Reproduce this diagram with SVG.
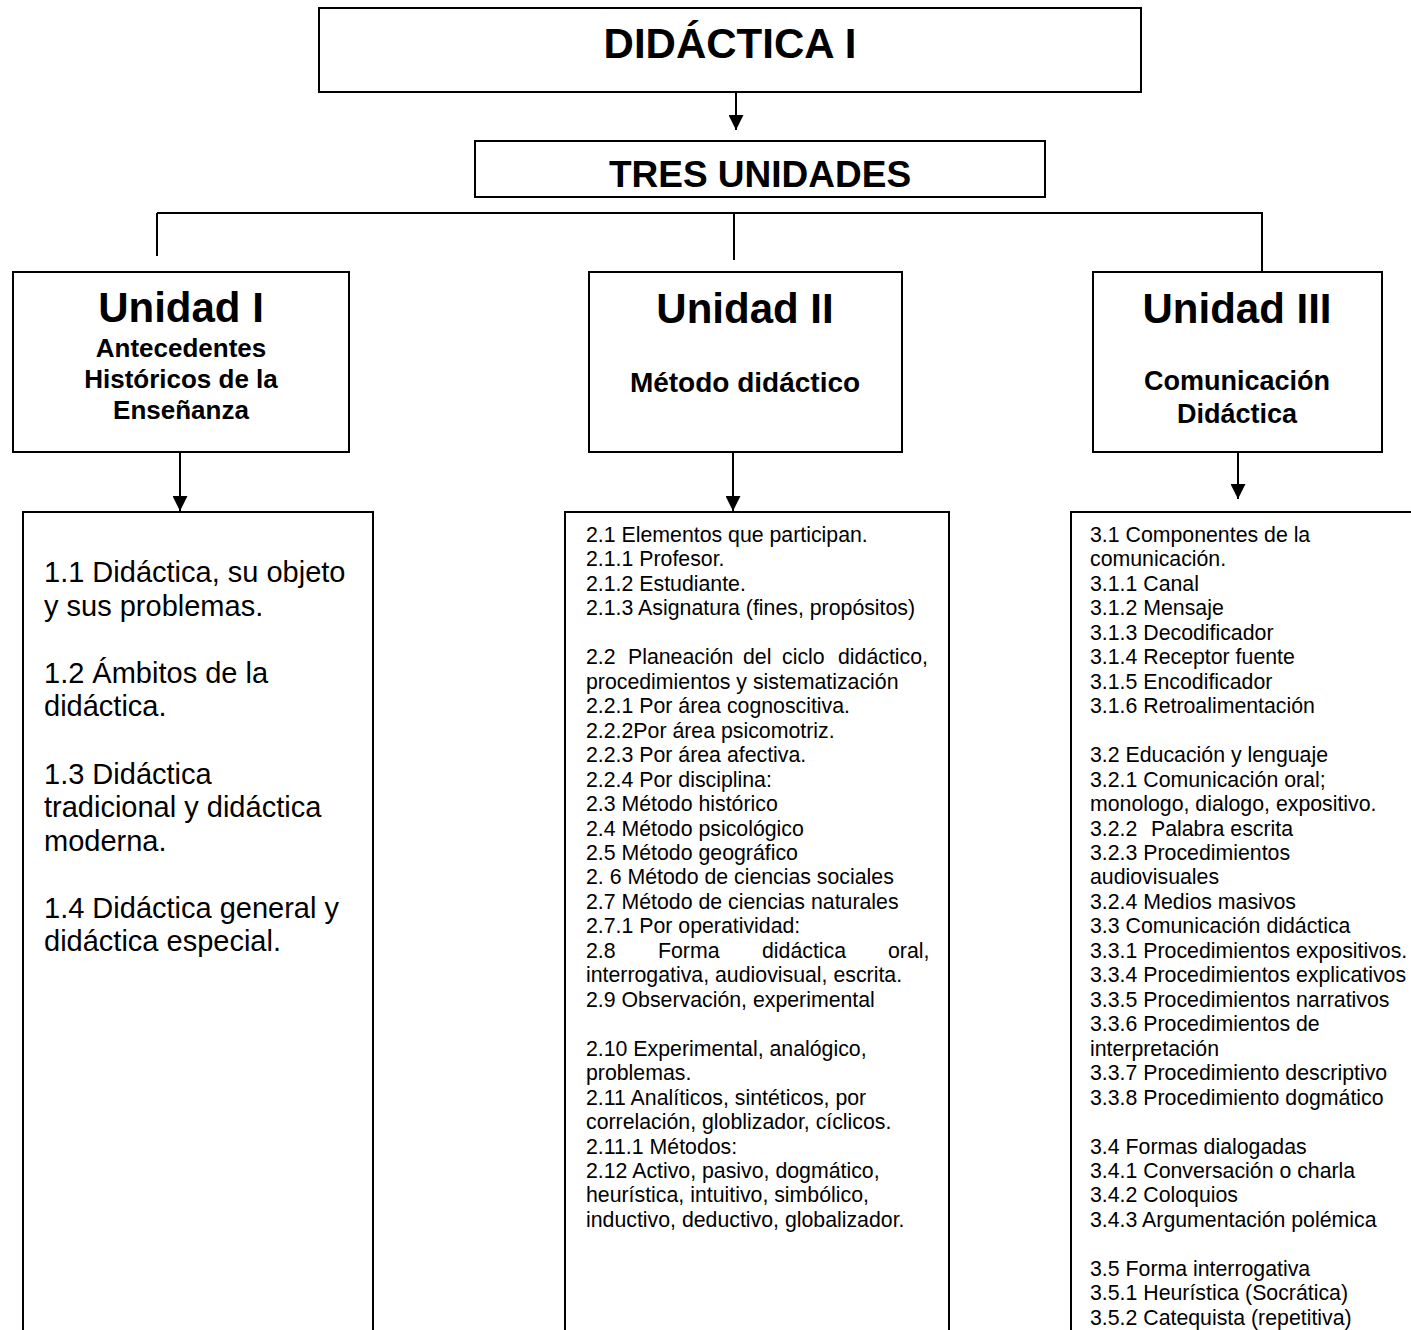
<svg xmlns="http://www.w3.org/2000/svg" width="1411" height="1330" viewBox="0 0 1411 1330">
<defs>
<style>
.box{fill:#fff;stroke:#000;stroke-width:2}
.ln{fill:none;stroke:#000;stroke-width:2}
text{font-family:"Liberation Sans",Arial,sans-serif;fill:#000}
.h1{font-size:42px;font-weight:bold;text-anchor:middle}
.h2{font-size:37px;font-weight:bold;text-anchor:middle}
.ut{font-size:42px;font-weight:bold;text-anchor:middle}
.s1{font-size:26px;font-weight:bold;text-anchor:middle}
.s2{font-size:28px;font-weight:bold;text-anchor:middle}
.s3{font-size:27px;font-weight:bold;text-anchor:middle}
.big{font-size:29px}
.sm{font-size:21.3px}
</style>
<marker id="ah" viewBox="0 0 10 10" refX="10" refY="5" markerWidth="7.5" markerHeight="7.5" markerUnits="strokeWidth" orient="auto">
<path d="M0,0 L10,5 L0,10 z" fill="#000"/>
</marker>
</defs>
<rect width="1411" height="1330" fill="#fff"/>

<g id="connectors">
<line class="ln" x1="736" y1="92" x2="736" y2="130" marker-end="url(#ah)"/>
<line class="ln" x1="157" y1="213" x2="1263" y2="213"/>
<line class="ln" x1="157" y1="213" x2="157" y2="256"/>
<line class="ln" x1="734" y1="213" x2="734" y2="260"/>
<line class="ln" x1="1262" y1="213" x2="1262" y2="272"/>
<line class="ln" x1="180" y1="452" x2="180" y2="511" marker-end="url(#ah)"/>
<line class="ln" x1="733" y1="452" x2="733" y2="511" marker-end="url(#ah)"/>
<line class="ln" x1="1238" y1="452" x2="1238" y2="499" marker-end="url(#ah)"/>
</g>

<g id="didactica">
<rect class="box" x="319" y="8" width="822" height="84"/>
<text class="h1" x="730" y="58">DIDÁCTICA I</text>
</g>

<g id="tres-unidades">
<rect class="box" x="475" y="141" width="570" height="56"/>
<text class="h2" x="760" y="187">TRES UNIDADES</text>
</g>

<g id="unidad1">
<rect class="box" x="13" y="272" width="336" height="180"/>
<text class="ut" x="181" y="322">Unidad I</text>
<text class="s1" x="181" y="357">Antecedentes</text>
<text class="s1" x="181" y="388">Históricos de la</text>
<text class="s1" x="181" y="419">Enseñanza</text>
</g>

<g id="unidad2">
<rect class="box" x="589" y="272" width="313" height="180"/>
<text class="ut" x="745" y="323">Unidad II</text>
<text class="s2" x="745" y="392">Método didáctico</text>
</g>

<g id="unidad3">
<rect class="box" x="1093" y="272" width="289" height="180"/>
<text class="ut" x="1237" y="323">Unidad III</text>
<text class="s3" x="1237" y="390">Comunicación</text>
<text class="s3" x="1237" y="423">Didáctica</text>
</g>

<g id="contenido1">
<rect class="box" x="23" y="512" width="350" height="840"/>
<text class="big">
<tspan x="44" y="582">1.1 Didáctica, su objeto</tspan>
<tspan x="44" y="615.5">y sus problemas.</tspan>
<tspan x="44" y="682.5">1.2 Ámbitos de la</tspan>
<tspan x="44" y="716">didáctica.</tspan>
<tspan x="44" y="783.5">1.3 Didáctica</tspan>
<tspan x="44" y="817">tradicional y didáctica</tspan>
<tspan x="44" y="850.5">moderna.</tspan>
<tspan x="44" y="917.5">1.4 Didáctica general y</tspan>
<tspan x="44" y="951">didáctica especial.</tspan>
</text>
</g>

<g id="contenido2">
<rect class="box" x="565" y="512" width="384" height="840"/>
<text class="sm">
<tspan x="586" y="542">2.1 Elementos que participan.</tspan>
<tspan x="586" y="566.46">2.1.1 Profesor.</tspan>
<tspan x="586" y="590.92">2.1.2 Estudiante.</tspan>
<tspan x="586" y="615.38">2.1.3 Asignatura (fines, propósitos)</tspan>
<tspan x="586" y="664.3">2.2</tspan><tspan x="628" y="664.3">Planeación</tspan><tspan x="743" y="664.3">del</tspan><tspan x="782" y="664.3">ciclo</tspan><tspan x="838" y="664.3">didáctico,</tspan>
<tspan x="586" y="688.76">procedimientos y sistematización</tspan>
<tspan x="586" y="713.22">2.2.1 Por área cognoscitiva.</tspan>
<tspan x="586" y="737.68">2.2.2Por área psicomotriz.</tspan>
<tspan x="586" y="762.14">2.2.3 Por área afectiva.</tspan>
<tspan x="586" y="786.6">2.2.4 Por disciplina:</tspan>
<tspan x="586" y="811.06">2.3 Método histórico</tspan>
<tspan x="586" y="835.52">2.4 Método psicológico</tspan>
<tspan x="586" y="859.98">2.5 Método geográfico</tspan>
<tspan x="586" y="884.44">2. 6 Método de ciencias sociales</tspan>
<tspan x="586" y="908.9">2.7 Método de ciencias naturales</tspan>
<tspan x="586" y="933.36">2.7.1 Por operatividad:</tspan>
<tspan x="586" y="957.82">2.8</tspan><tspan x="658" y="957.82">Forma</tspan><tspan x="762" y="957.82">didáctica</tspan><tspan x="888" y="957.82">oral,</tspan>
<tspan x="586" y="982.28">interrogativa, audiovisual, escrita.</tspan>
<tspan x="586" y="1006.74">2.9 Observación, experimental</tspan>
<tspan x="586" y="1055.66">2.10 Experimental, analógico,</tspan>
<tspan x="586" y="1080.12">problemas.</tspan>
<tspan x="586" y="1104.58">2.11 Analíticos, sintéticos, por</tspan>
<tspan x="586" y="1129.04">correlación, globlizador, cíclicos.</tspan>
<tspan x="586" y="1153.5">2.11.1 Métodos:</tspan>
<tspan x="586" y="1177.96">2.12 Activo, pasivo, dogmático,</tspan>
<tspan x="586" y="1202.42">heurística, intuitivo, simbólico,</tspan>
<tspan x="586" y="1226.88">inductivo, deductivo, globalizador.</tspan>
</text>
</g>

<g id="contenido3">
<rect class="box" x="1071" y="512" width="400" height="840"/>
<text class="sm">
<tspan x="1090" y="542">3.1 Componentes de la</tspan>
<tspan x="1090" y="566.46">comunicación.</tspan>
<tspan x="1090" y="590.92">3.1.1 Canal</tspan>
<tspan x="1090" y="615.38">3.1.2 Mensaje</tspan>
<tspan x="1090" y="639.84">3.1.3 Decodificador</tspan>
<tspan x="1090" y="664.3">3.1.4 Receptor fuente</tspan>
<tspan x="1090" y="688.76">3.1.5 Encodificador</tspan>
<tspan x="1090" y="713.22">3.1.6 Retroalimentación</tspan>
<tspan x="1090" y="762.14">3.2 Educación y lenguaje</tspan>
<tspan x="1090" y="786.6">3.2.1 Comunicación oral;</tspan>
<tspan x="1090" y="811.06">monologo, dialogo, expositivo.</tspan>
<tspan x="1090" y="835.52">3.2.2</tspan><tspan x="1151" y="835.52">Palabra escrita</tspan>
<tspan x="1090" y="859.98">3.2.3 Procedimientos</tspan>
<tspan x="1090" y="884.44">audiovisuales</tspan>
<tspan x="1090" y="908.9">3.2.4 Medios masivos</tspan>
<tspan x="1090" y="933.36">3.3 Comunicación didáctica</tspan>
<tspan x="1090" y="957.82">3.3.1 Procedimientos expositivos.</tspan>
<tspan x="1090" y="982.28">3.3.4 Procedimientos explicativos</tspan>
<tspan x="1090" y="1006.74">3.3.5 Procedimientos narrativos</tspan>
<tspan x="1090" y="1031.2">3.3.6 Procedimientos de</tspan>
<tspan x="1090" y="1055.66">interpretación</tspan>
<tspan x="1090" y="1080.12">3.3.7 Procedimiento descriptivo</tspan>
<tspan x="1090" y="1104.58">3.3.8 Procedimiento dogmático</tspan>
<tspan x="1090" y="1153.5">3.4 Formas dialogadas</tspan>
<tspan x="1090" y="1177.96">3.4.1 Conversación o charla</tspan>
<tspan x="1090" y="1202.42">3.4.2 Coloquios</tspan>
<tspan x="1090" y="1226.88">3.4.3 Argumentación polémica</tspan>
<tspan x="1090" y="1275.8">3.5 Forma interrogativa</tspan>
<tspan x="1090" y="1300.26">3.5.1 Heurística (Socrática)</tspan>
<tspan x="1090" y="1324.72">3.5.2 Catequista (repetitiva)</tspan>
</text>
</g>
</svg>
